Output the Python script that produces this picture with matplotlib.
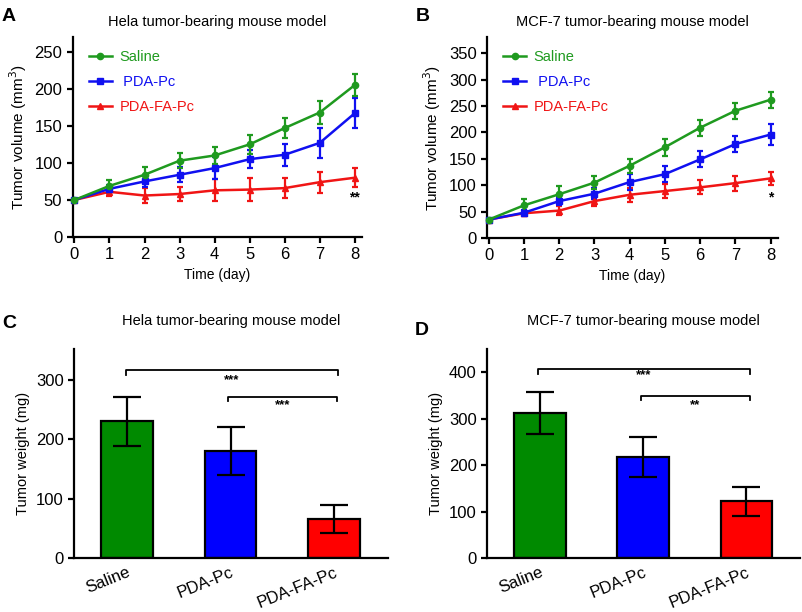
import matplotlib
matplotlib.use("Agg")
import matplotlib.pyplot as plt

plt.rcParams['font.family'] = ['Liberation Sans', 'DejaVu Sans']

days = [0, 1, 2, 3, 4, 5, 6, 7, 8]
groups = ["Saline", "PDA-Pc", "PDA-FA-Pc"]
legend_labels = ["Saline", " PDA-Pc", "PDA-FA-Pc"]

# Panel A (Hela) tumor volume
hela_saline = [50, 69, 84, 103, 110, 125, 147, 168, 205]
hela_saline_err = [0, 8, 10, 10, 12, 13, 14, 15, 15]
hela_pdapc = [50, 65, 75, 84, 93, 105, 111, 127, 167]
hela_pdapc_err = [0, 5, 8, 10, 15, 12, 15, 20, 20]
hela_fa = [50, 61, 56, 58, 63, 64, 66, 74, 80]
hela_fa_err = [0, 5, 10, 10, 15, 15, 13, 14, 13]

# Panel B (MCF-7) tumor volume
mcf_saline = [35, 62, 83, 105, 137, 172, 209, 241, 262]
mcf_saline_err = [0, 12, 15, 13, 13, 16, 15, 15, 15]
mcf_pdapc = [35, 48, 70, 84, 106, 121, 149, 178, 196]
mcf_pdapc_err = [0, 5, 8, 10, 15, 15, 15, 15, 20]
mcf_fa = [35, 47, 52, 70, 82, 89, 96, 104, 113]
mcf_fa_err = [0, 5, 8, 10, 13, 14, 13, 14, 13]

# Panels C, D tumor weight
hela_weight = [230, 180, 66]
hela_weight_err = [41, 41, 24]
mcf_weight = [312, 218, 122]
mcf_weight_err = [45, 43, 31]

line_colors = ['#1f9a1f', '#1010f0', '#f01515']
bar_colors = ['#008a00', '#0000ff', '#ff0000']
markers = ['o', 's', '^']

fig = plt.figure(figsize=(8.03, 6.12), dpi=100)

def style_axes(ax):
    for s in ['top', 'right']:
        ax.spines[s].set_visible(False)
    for s in ['left', 'bottom']:
        ax.spines[s].set_linewidth(1.6)
    ax.tick_params(width=1.6, length=4, labelsize=12, direction='out')

def line_panel(ax, series, errs, ylim, yticks, title, star, star_y, letter):
    handles = []
    for i, (vals, err) in enumerate(zip(series, errs)):
        c = ax.errorbar(days, vals, yerr=err, color=line_colors[i], marker=markers[i],
                        markersize=4.5, lw=1.8, elinewidth=1.6, capsize=2.5, capthick=1.6,
                        clip_on=False, zorder=3 - i * 0.1)
        handles.append(c[0])
    ax.set_xlim(-0.05, 8.2)
    ax.set_ylim(*ylim)
    ax.set_xticks(days)
    ax.set_yticks(yticks)
    style_axes(ax)
    ax.set_xlabel("Time (day)", fontsize=10)
    ax.set_ylabel("Tumor volume (mm$^3$)", fontsize=11)
    ax.set_title(title, fontsize=10.5, pad=8)
    ax.text(8, star_y, star, ha='center', va='center', fontsize=10, fontweight='bold')
    leg = ax.legend(handles, legend_labels, loc='upper left', frameon=False, fontsize=10.5,
                    handlelength=1.6, labelspacing=0.75, bbox_to_anchor=(0.01, 1.0),
                    handletextpad=0.5)
    for t, c in zip(leg.get_texts(), line_colors):
        t.set_color(c)
    ax.text(-0.245, 1.06, letter, transform=ax.transAxes, fontsize=14,
            fontweight='bold', va='bottom', ha='left')

def bar_panel(ax, vals, errs, ylim, yticks, title, brackets, letter, ly):
    x = [0, 1, 2]
    ax.bar(x, vals, width=0.5, color=bar_colors, edgecolor='black', linewidth=1.6, zorder=2)
    ax.errorbar(x, vals, yerr=errs, fmt='none', ecolor='black', elinewidth=1.6,
                capsize=10, capthick=1.6, zorder=3)
    ax.set_xlim(-0.51, 2.52)
    ax.set_ylim(*ylim)
    ax.set_yticks(yticks)
    ax.set_xticks(x)
    ax.set_xticklabels(groups, rotation=22, ha='right', rotation_mode='anchor', fontsize=9.5)
    style_axes(ax)
    ax.tick_params(axis='x', length=0, pad=5)
    ax.set_ylabel("Tumor weight (mg)", fontsize=10.5)
    ax.set_title(title, fontsize=10.5, pad=17)
    for (x0, x1, y, drop, label, ty) in brackets:
        ax.plot([x0, x0, x1, x1], [y - drop, y, y, y - drop], color='black', lw=1.3)
        ax.text((x0 + x1) / 2, ty, label, ha='center', va='center', fontsize=9.5, fontweight='bold')
    ax.text(-0.23, ly, letter, transform=ax.transAxes, fontsize=14,
            fontweight='bold', va='bottom', ha='left')

axA = fig.add_axes([0.0905, 0.6127, 0.360, 0.327])
line_panel(axA, [hela_saline, hela_pdapc, hela_fa],
           [hela_saline_err, hela_pdapc_err, hela_fa_err],
           (0, 270), [0, 50, 100, 150, 200, 250],
           "Hela tumor-bearing mouse model", "**", 54, "A")

axB = fig.add_axes([0.6065, 0.611, 0.362, 0.328])
line_panel(axB, [mcf_saline, mcf_pdapc, mcf_fa],
           [mcf_saline_err, mcf_pdapc_err, mcf_fa_err],
           (0, 380), [0, 50, 100, 150, 200, 250, 300, 350],
           "MCF-7 tumor-bearing mouse model", "*", 77, "B")

axC = fig.add_axes([0.0922, 0.0882, 0.391, 0.3415])
bar_panel(axC, hela_weight, hela_weight_err, (0, 352), [0, 100, 200, 300],
          "Hela tumor-bearing mouse model",
          [(-0.01, 2.04, 317, 9, "***", 300), (0.98, 2.03, 271, 6, "***", 257)], "C", 1.08)

axD = fig.add_axes([0.6065, 0.0882, 0.39, 0.3415])
bar_panel(axD, mcf_weight, mcf_weight_err, (0, 450), [0, 100, 200, 300, 400],
          "MCF-7 tumor-bearing mouse model",
          [(-0.02, 2.03, 407, 10, "***", 393), (0.98, 2.03, 348, 8, "**", 330)], "D", 1.05)

fig.savefig("out.png", dpi=100)
